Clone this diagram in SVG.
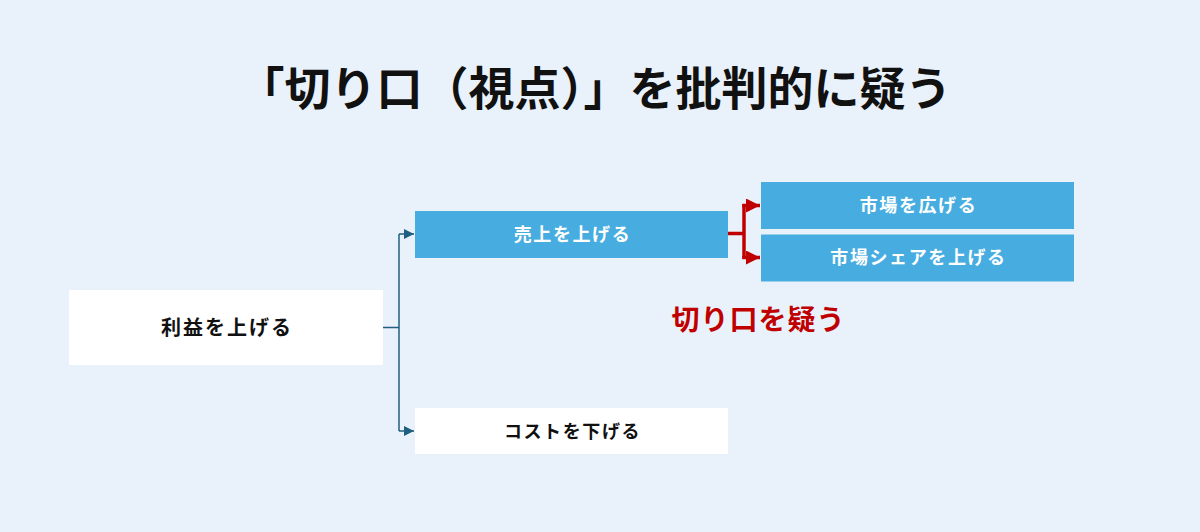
<svg xmlns="http://www.w3.org/2000/svg" width="1200" height="532" viewBox="0 0 1200 532">
<defs>
<style>
text{font-family:"Noto Sans CJK JP","Noto Sans",sans-serif;font-weight:700;text-anchor:middle}
.title{font-size:46px;fill:#111;letter-spacing:0px}
.blue{fill:#47ade0}
.white{fill:#ffffff}
.wt{font-size:18px;fill:#ffffff;letter-spacing:1.6px}
.bt{font-size:18px;fill:#111111;letter-spacing:1.6px}
.rt{font-size:20px;fill:#111111;letter-spacing:2px}
.red{font-size:28px;fill:#c00000;letter-spacing:1px}
.conn{fill:none;stroke:#1f5f80;stroke-width:1.5}
.rconn{fill:none;stroke:#c00000;stroke-width:3.5}
</style>
<marker id="ah" viewBox="0 0 10 10" refX="10" refY="5" markerWidth="10" markerHeight="10" markerUnits="userSpaceOnUse" orient="auto">
<path d="M0,0 L10,5 L0,10 z" fill="#1f5f80"/>
</marker>
<marker id="rah" viewBox="0 0 10 10" refX="10" refY="5" markerWidth="14" markerHeight="14" markerUnits="userSpaceOnUse" orient="auto">
<path d="M0,0 L10,5 L0,10 z" fill="#c00000"/>
</marker>
</defs>
<rect width="1200" height="532" fill="#e9f1fb"/>
<text class="title" x="595" y="105">「切り口（視点）」を批判的に疑う</text>
<g id="connectors">
<path class="conn" d="M383,327.5 H399"/>
<path class="conn" d="M399,234 V431"/>
<path class="conn" d="M399,234 H414" marker-end="url(#ah)"/>
<path class="conn" d="M399,431 H414" marker-end="url(#ah)"/>
<path class="rconn" d="M728,233.5 H744"/>
<path class="rconn" d="M744,204 V259"/>
<path class="rconn" d="M742.3,205.5 H760" marker-end="url(#rah)"/>
<path class="rconn" d="M742.3,257.5 H760" marker-end="url(#rah)"/>
</g>
<g id="node-rieki">
<rect class="white" x="69" y="290" width="314" height="75"/>
<text class="rt" x="227" y="334.5">利益を上げる</text>
</g>
<g id="node-uriage">
<rect class="blue" x="415" y="211" width="313" height="47"/>
<text class="wt" x="572.5" y="240.5">売上を上げる</text>
</g>
<g id="node-cost">
<rect class="white" x="415" y="408" width="313" height="46"/>
<text class="bt" x="572.5" y="437.5">コストを下げる</text>
</g>
<g id="node-shijo">
<rect class="blue" x="761" y="182" width="313" height="47"/>
<text class="wt" x="918.5" y="211.5">市場を広げる</text>
</g>
<g id="node-share">
<rect class="blue" x="761" y="234.5" width="313" height="47"/>
<text class="wt" x="918.5" y="264">市場シェアを上げる</text>
</g>
<g id="label-utagau">
<text class="red" x="758.5" y="330">切り口を疑う</text>
</g>
</svg>
